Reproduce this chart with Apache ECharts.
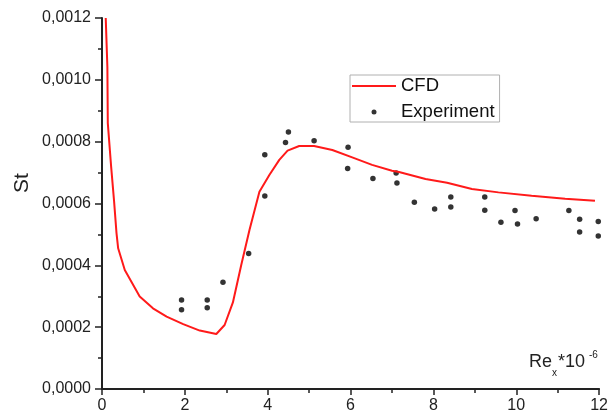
<!DOCTYPE html>
<html>
<head>
<meta charset="utf-8">
<script src="https://cdn.jsdelivr.net/npm/echarts@6/dist/echarts.min.js"></script>
<style>
html,body{margin:0;padding:0;background:#fff;}
#c{width:611px;height:417px;}
</style>
</head>
<body>
<div id="c"></div>
<script>
const cfdData = [
  [0.09,0.00120],[0.13,0.00104],[0.14,0.00086],[0.22,0.00072],[0.29,0.00061],
  [0.35,0.000504],[0.39,0.000455],[0.55,0.000385],[0.91,0.000299],[1.23,0.000261],
  [1.56,0.000234],[1.96,0.000210],[2.36,0.000189],[2.76,0.000178],[2.96,0.000207],
  [3.16,0.000280],[3.36,0.000400],[3.56,0.000514],[3.80,0.000638],[4.04,0.000692],
  [4.28,0.000741],[4.48,0.000771],[4.76,0.000786],[5.12,0.000786],[5.56,0.000773],
  [6.04,0.000749],[6.52,0.000725],[7.00,0.000706],[7.17,0.000702],[7.81,0.000679],
  [8.33,0.000667],[8.93,0.000647],[9.57,0.000636],[10.37,0.000625],[11.18,0.000615],
  [11.90,0.000609]
];
const expData = [
  [1.92,0.000288],[1.92,0.000256],[2.54,0.000288],[2.54,0.000263],[2.92,0.000345],
  [3.54,0.000438],[3.93,0.000624],[3.93,0.000758],[4.43,0.000797],[4.50,0.000831],
  [5.12,0.000803],[5.94,0.000782],[5.93,0.000713],[6.54,0.000681],[7.10,0.000699],
  [7.12,0.000666],[7.54,0.000604],[8.03,0.000582],[8.42,0.000621],[8.42,0.000589],
  [9.24,0.000621],[9.24,0.000578],[9.63,0.000539],[9.97,0.000577],[10.03,0.000534],
  [10.48,0.000551],[11.27,0.000577],[11.53,0.000549],[11.53,0.000508],[11.98,0.000542],
  [11.98,0.000495]
];
const seriesNames = ['CFD','Experiment'];
const xTicks = {min:0, max:12, interval:2};
const yTicks = {min:0, max:0.0012, interval:0.0002};

const axisColor = '#222';
const font = 'Liberation Sans, Arial, sans-serif';
const chart = echarts.init(document.getElementById('c'));
chart.setOption({
  animation:false,
  backgroundColor:'#fff',
  grid:{left:102, right:10, top:18, bottom:28, containLabel:false},
  legend:{
    orient:'vertical', left:350, top:75,
    data:[
      {name:seriesNames[0], icon:'path://M0,0H44V2H0Z'},
      {name:seriesNames[1], icon:'circle'}
    ],
    itemWidth:44, itemHeight:5, itemGap:6,
    borderColor:'#b0b0b0', borderWidth:1, padding:[1,5,0,2],
    textStyle:{fontFamily:font, fontSize:18.5, color:'#111', lineHeight:20}
  },
  xAxis:{
    type:'value', min:xTicks.min, max:xTicks.max, interval:xTicks.interval,
    axisLine:{show:true, onZero:false, lineStyle:{color:axisColor, width:2}},
    axisTick:{show:true, length:6, lineStyle:{color:axisColor, width:1.5}},
    minorTick:{show:true, splitNumber:2, length:4, lineStyle:{color:axisColor, width:1.5}},
    splitLine:{show:false},
    axisLabel:{fontFamily:font, fontSize:16, color:'#222', margin:9}
  },
  yAxis:{
    type:'value', min:yTicks.min, max:yTicks.max, interval:yTicks.interval,
    axisLine:{show:true, lineStyle:{color:axisColor, width:2}},
    axisTick:{show:true, length:7, lineStyle:{color:axisColor, width:1.5}},
    minorTick:{show:true, splitNumber:2, length:4, lineStyle:{color:axisColor, width:1.5}},
    splitLine:{show:false},
    axisLabel:{fontFamily:font, fontSize:16, color:'#222', margin:11,
      formatter:v=>v.toFixed(4).replace('.',',')}
  },
  graphic:[
    {type:'text', rotation:Math.PI/2, x:12, y:193,
      style:{text:'St', fontFamily:font, fontSize:21, fill:'#222'}},
    {type:'text', x:529, y:362, style:{text:'Re', fontFamily:font, fontSize:18, fill:'#222', verticalAlign:'middle'}},
    {type:'text', x:552, y:373, style:{text:'x', fontFamily:font, fontSize:10, fill:'#222', verticalAlign:'middle'}},
    {type:'text', x:558, y:362, style:{text:'*10', fontFamily:font, fontSize:18, fill:'#222', verticalAlign:'middle'}},
    {type:'text', x:589, y:355, style:{text:'-6', fontFamily:font, fontSize:10, fill:'#222', verticalAlign:'middle'}}
  ],
  series:[
    {name:seriesNames[0], type:'line', data:cfdData, showSymbol:false, symbol:'none',
      lineStyle:{color:'#ff1a1a', width:2}, itemStyle:{color:'#ff1a1a'}},
    {name:seriesNames[1], type:'scatter', data:expData, symbol:'circle', symbolSize:5.5,
      itemStyle:{color:'#000'}}
  ]
});
</script>
</body>
</html>
